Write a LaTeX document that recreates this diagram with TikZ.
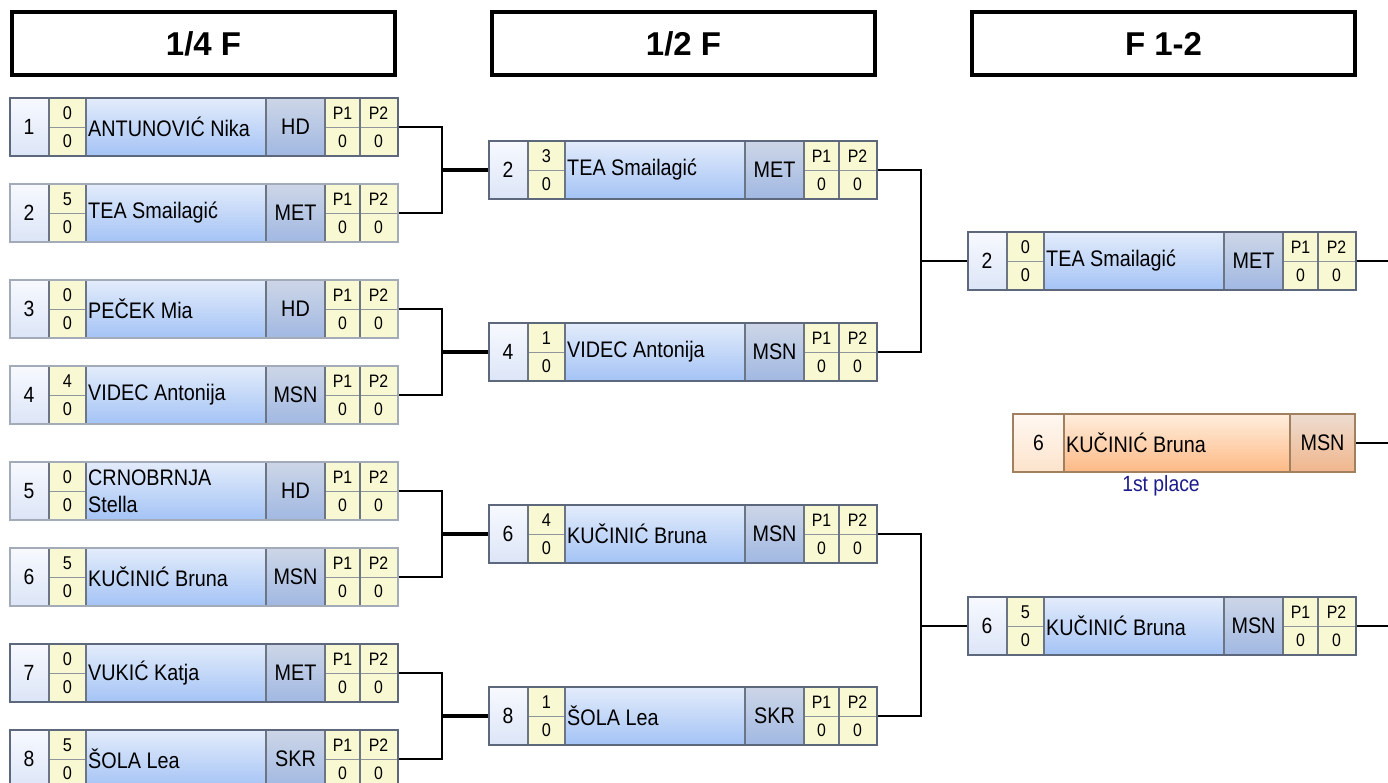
\documentclass[tikz,border=0pt]{standalone}
\usepackage{fontspec}
\setmainfont{Liberation Sans}
\newfontfamily\cnd[FakeStretch=0.88]{Liberation Sans}
\definecolor{seedA}{HTML}{F7F9FE}
\definecolor{seedB}{HTML}{DCE5F7}
\definecolor{nameA}{HTML}{E3ECFB}
\definecolor{nameB}{HTML}{A4C3F5}
\definecolor{clubA}{HTML}{CDD6E7}
\definecolor{clubB}{HTML}{A1B8E2}
\definecolor{yel}{HTML}{F8F8D2}
\definecolor{divc}{HTML}{6C7583}
\definecolor{subc}{HTML}{8E959C}
\definecolor{bdark}{HTML}{5D687C}
\definecolor{blight}{HTML}{A3ABB8}
\definecolor{oseedA}{HTML}{FFF8F2}
\definecolor{oseedB}{HTML}{FDE3CC}
\definecolor{onameA}{HTML}{FFEEDD}
\definecolor{onameB}{HTML}{FDB985}
\definecolor{oclubA}{HTML}{EDDCD0}
\definecolor{oclubB}{HTML}{F0B68C}
\definecolor{obord}{HTML}{A0805F}
\definecolor{navy}{HTML}{1C1C8C}
\tikzset{
  conn/.style={draw=black, line width=2pt},
  connthick/.style={draw=black, line width=3.5pt},
  hdr/.style={draw=black, line width=3.3pt, minimum width=383pt, minimum height=63pt, inner sep=0pt, font=\fontsize{33}{36}\selectfont\bfseries},
  boxouter/.style={minimum width=388pt, minimum height=58pt, inner sep=0pt, anchor=west},
  seedtxt/.style={inner sep=0pt, font=\cnd\fontsize{22}{24}\selectfont},
  scoretxt/.style={inner sep=0pt, font=\cnd\fontsize{18.5}{20}\selectfont},
  ptxt/.style={inner sep=0pt, font=\cnd\fontsize{18}{20}\selectfont},
  nametxt/.style={inner sep=0pt, anchor=west, align=left, font=\cnd\fontsize{22.5}{27}\selectfont},
  clubtxt/.style={inner sep=0pt, font=\cnd\fontsize{22.5}{24}\selectfont},
  divline/.style={draw=divc, line width=1.6pt},
  subline/.style={draw=subc, line width=1pt},
}
\newcommand\plentry[9]{%
\begin{scope}[shift={(#2,#3)}]
  \shade[top color=seedA, bottom color=seedB] (0,-29) rectangle (40,29);
  \fill[yel] (40,-29) rectangle (77,29);
  \shade[top color=nameA, bottom color=nameB] (77,-29) rectangle (257,29);
  \shade[top color=clubA, bottom color=clubB] (257,-29) rectangle (316,29);
  \fill[yel] (316,-29) rectangle (388,29);
  \draw[subline] (40,0) -- (77,0) (316,0) -- (388,0);
  \draw[divline] (40,-29) -- (40,29) (77,-29) -- (77,29) (257,-29) -- (257,29) (316,-29) -- (316,29) (351,-29) -- (351,29);
  \node[seedtxt] (#1sd) at (20,0) {#4};
  \node[scoretxt] (#1sa) at (58.5,-14) {#5};
  \node[scoretxt] (#1sb) at (58.5,14) {#6};
  \node[nametxt] (#1nm) at (79,0) {#7};
  \node[clubtxt] (#1cl) at (286.5,0) {#8};
  \node[ptxt] (#1pa) at (333.5,-14) {P1};
  \node[ptxt] (#1pb) at (369.5,-14) {P2};
  \node[ptxt] (#1pc) at (333.5,14) {0};
  \node[ptxt] (#1pd) at (369.5,14) {0};
  \node[boxouter, draw=#9, line width=\ifx#9bdark 2.5pt\else 1.6pt\fi] (#1) at (0,0) {};
\end{scope}}
\begin{document}
\begin{tikzpicture}[x=1pt, y=-1pt]
\useasboundingbox[fill=white] (0,0) rectangle (1388,782);
% headers
\node[hdr] (h1) at (203.5,43.5) {1/4 F};
\node[hdr] (h2) at (683.5,43.5) {1/2 F};
\node[hdr] (h3) at (1163.5,43.5) {F 1-2};
% quarter finals
\plentry{q1}{9}{127}{1}{0}{0}{ANTUNOVIĆ Nika}{HD}{bdark}
\plentry{q2}{9}{213}{2}{5}{0}{TEA Smailagić}{MET}{blight}
\plentry{q3}{9}{309}{3}{0}{0}{PEČEK Mia}{HD}{blight}
\plentry{q4}{9}{395}{4}{4}{0}{VIDEC Antonija}{MSN}{blight}
\plentry{q5}{9}{491}{5}{0}{0}{CRNOBRNJA\\Stella}{HD}{blight}
\plentry{q6}{9}{577}{6}{5}{0}{KUČINIĆ Bruna}{MSN}{blight}
\plentry{q7}{9}{673}{7}{0}{0}{VUKIĆ Katja}{MET}{bdark}
\plentry{q8}{9}{759}{8}{5}{0}{ŠOLA Lea}{SKR}{bdark}
% semi finals
\plentry{s1}{488}{170}{2}{3}{0}{TEA Smailagić}{MET}{bdark}
\plentry{s2}{488}{352}{4}{1}{0}{VIDEC Antonija}{MSN}{bdark}
\plentry{s3}{488}{534}{6}{4}{0}{KUČINIĆ Bruna}{MSN}{bdark}
\plentry{s4}{488}{716}{8}{1}{0}{ŠOLA Lea}{SKR}{bdark}
% final
\plentry{f1}{967}{261}{2}{0}{0}{TEA Smailagić}{MET}{bdark}
\plentry{f2}{967}{626}{6}{5}{0}{KUČINIĆ Bruna}{MSN}{bdark}
% winner
\shade[top color=oseedA, bottom color=oseedB] (1013,414) rectangle (1064,472);
\shade[top color=onameA, bottom color=onameB] (1064,414) rectangle (1290,472);
\shade[top color=oclubA, bottom color=oclubB] (1290,414) rectangle (1355,472);
\draw[draw=obord, line width=1.6pt] (1064,414) -- (1064,472) (1290,414) -- (1290,472);
\node[seedtxt] (wsd) at (1038.5,443) {6};
\node[nametxt] (wnm) at (1066,443) {KUČINIĆ Bruna};
\node[clubtxt] (wcl) at (1322.5,443) {MSN};
\node[draw=obord, line width=2pt, minimum width=342pt, minimum height=58pt, inner sep=0pt] (w1) at (1184,443) {};
\node[inner sep=0pt, text=navy, font=\cnd\fontsize{22}{24}\selectfont] (wlab) at (1161,486) {1st place};
% junctions
\coordinate (j1) at (442,170);
\coordinate (j2) at (442,352);
\coordinate (j3) at (442,534);
\coordinate (j4) at (442,716);
\coordinate (k1) at (921,261);
\coordinate (k2) at (921,626);
\coordinate (e1) at (1388,261);
\coordinate (e2) at (1388,443);
\coordinate (e3) at (1388,626);
% connectors
\draw[conn] (q1.east) -| (j1) |- (q2.east);
\draw[conn] (q3.east) -| (j2) |- (q4.east);
\draw[conn] (q5.east) -| (j3) |- (q6.east);
\draw[conn] (q7.east) -| (j4) |- (q8.east);
\draw[connthick] (j1) -- (s1.west);
\draw[connthick] (j2) -- (s2.west);
\draw[connthick] (j3) -- (s3.west);
\draw[connthick] (j4) -- (s4.west);
\draw[conn] (s1.east) -| (k1) |- (s2.east);
\draw[conn] (s3.east) -| (k2) |- (s4.east);
\draw[conn] (k1) -- (f1.west);
\draw[conn] (k2) -- (f2.west);
\draw[conn] (f1.east) -- (e1);
\draw[conn] (w1.east) -- (e2);
\draw[conn] (f2.east) -- (e3);
\end{tikzpicture}
\end{document}
